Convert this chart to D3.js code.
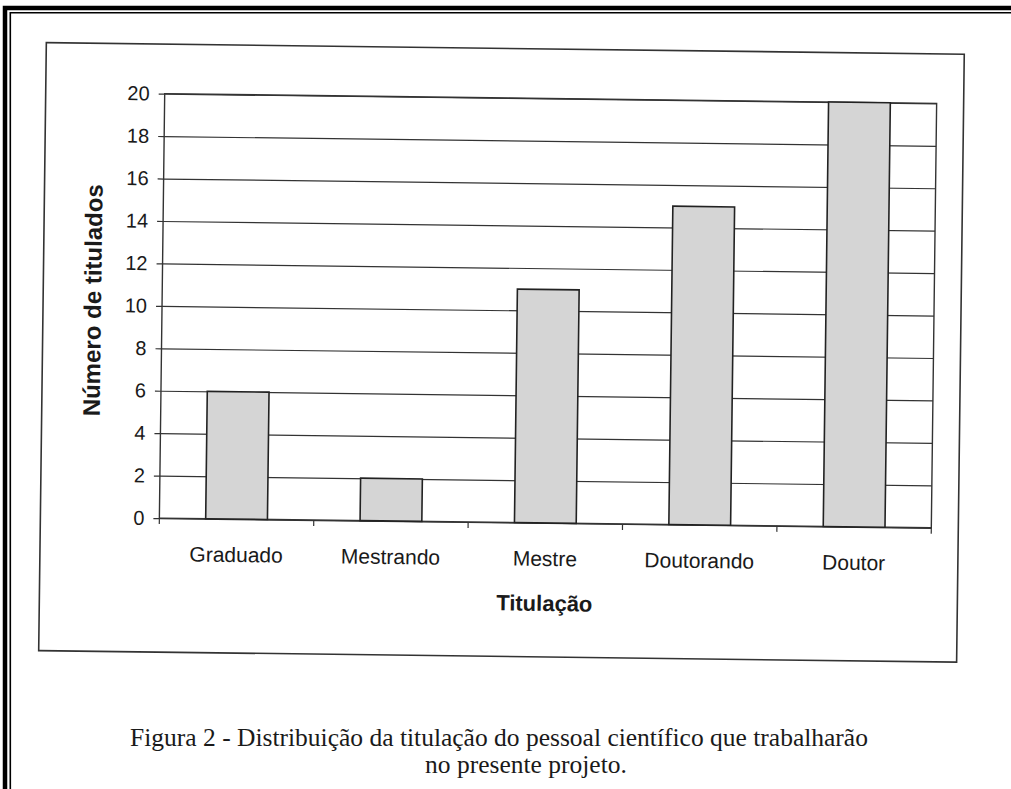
<!DOCTYPE html>
<html>
<head>
<meta charset="utf-8">
<script src="https://cdn.jsdelivr.net/npm/d3@7"></script>
<style>
	body { margin: 0; background: #fff; }
	svg { display: block; }
	.tick-label { font-family: "Liberation Sans", Arial, sans-serif; font-size: 20px; fill: #1a1a1a; }
	.axis-title { font-family: "Liberation Sans", Arial, sans-serif; font-size: 22px; font-weight: bold; fill: #1a1a1a; }
	.caption { font-family: "Liberation Serif", "Times New Roman", serif; font-size: 25.5px; fill: #1a1a1a; }
</style>
</head>
<body>
<svg id="chart" width="1011" height="789"></svg>
<script>
const categories = ['Graduado', 'Mestrando', 'Mestre', 'Doutorando', 'Doutor'];
const counts = [6, 2, 11, 15, 20];
const yTicks = [0, 2, 4, 6, 8, 10, 12, 14, 16, 18, 20];
const captionLines = [
	'Figura 2 - Distribuição da titulação do pessoal científico que trabalharão',
	'no presente projeto.'
];

const svg = d3.select('#chart');

// page border of the scanned document (thick line + thin line)
svg.append('path')
	.attr('d', 'M5,789 V8 H1011')
	.attr('fill', 'none')
	.attr('stroke', '#000')
	.attr('stroke-width', 4.5);
svg.append('path')
	.attr('d', 'M10.3,789 V12.8 H1011')
	.attr('fill', 'none')
	.attr('stroke', '#000')
	.attr('stroke-width', 1.6);

// the scan is slightly tilted, so the chart block is rotated a bit
const g = svg.append('g')
	.attr('transform', 'rotate(0.72, 550, 311)');

// outer frame of the chart
g.append('rect')
	.attr('x', 43)
	.attr('y', 49)
	.attr('width', 918)
	.attr('height', 608)
	.attr('fill', 'none')
	.attr('stroke', '#333')
	.attr('stroke-width', 1.6);

const plot = { left: 162, right: 934, top: 98.5, bottom: 523 };

const x = d3.scaleBand()
	.domain(categories)
	.range([plot.left, plot.right])
	.paddingInner(0.6)
	.paddingOuter(0.3);

const y = d3.scaleLinear()
	.domain([0, 20])
	.range([plot.bottom, plot.top]);

// horizontal gridlines
g.append('g')
	.attr('transform', `translate(${plot.left},0)`)
	.call(d3.axisLeft(y).tickValues(yTicks).tickSize(-(plot.right - plot.left)).tickFormat(''))
	.call(a => a.select('.domain').remove())
	.selectAll('line')
	.attr('stroke', '#333')
	.attr('stroke-width', 1.2);

// y axis with outside ticks and labels
const yAxis = g.append('g')
	.attr('transform', `translate(${plot.left},0)`)
	.call(d3.axisLeft(y).tickValues(yTicks).tickSize(6).tickPadding(9));
yAxis.select('.domain').remove();
yAxis.selectAll('line').attr('stroke', '#333').attr('stroke-width', 1.2);
yAxis.selectAll('text').attr('class', 'tick-label');
yAxis.attr('font-size', null).attr('font-family', null);

// plot area border
g.append('rect')
	.attr('x', plot.left)
	.attr('y', plot.top)
	.attr('width', plot.right - plot.left)
	.attr('height', plot.bottom - plot.top)
	.attr('fill', 'none')
	.attr('stroke', '#333')
	.attr('stroke-width', 1.4);

// category boundary ticks below the x axis
const step = x.step();
const bounds = d3.range(categories.length + 1).map(i => plot.left + i * step);
g.append('g')
	.selectAll('line')
	.data(bounds)
	.enter()
	.append('line')
	.attr('x1', d => d)
	.attr('x2', d => d)
	.attr('y1', plot.bottom)
	.attr('y2', plot.bottom + 6)
	.attr('stroke', '#333')
	.attr('stroke-width', 1.2);

// bars
g.append('g')
	.selectAll('rect')
	.data(counts)
	.enter()
	.append('rect')
	.attr('x', (d, i) => x(categories[i]))
	.attr('y', d => y(d))
	.attr('width', x.bandwidth())
	.attr('height', d => y(0) - y(d))
	.attr('fill', '#d5d5d5')
	.attr('stroke', '#222')
	.attr('stroke-width', 1.6);

// x category labels
g.append('g')
	.selectAll('text')
	.data(categories)
	.enter()
	.append('text')
	.attr('class', 'tick-label')
	.attr('x', d => x(d) + x.bandwidth() / 2)
	.attr('y', plot.bottom + 43)
	.attr('text-anchor', 'middle')
	.style('font-size', '21px')
	.text(d => d);

// axis titles
g.append('text')
	.attr('class', 'axis-title')
	.attr('x', (plot.left + plot.right) / 2)
	.attr('y', 611)
	.attr('text-anchor', 'middle')
	.text('Titulação');

g.append('text')
	.attr('class', 'axis-title')
	.attr('transform', 'translate(101,306) rotate(-90)')
	.attr('text-anchor', 'middle')
	.style('font-size', '24px')
	.text('Número de titulados');

// caption under the chart
svg.append('g')
	.selectAll('text')
	.data(captionLines)
	.enter()
	.append('text')
	.attr('class', 'caption')
	.attr('x', (d, i) => i === 0 ? 499 : 526)
	.attr('y', (d, i) => 746 + i * 27)
	.attr('text-anchor', 'middle')
	.text(d => d);
</script>
</body>
</html>
